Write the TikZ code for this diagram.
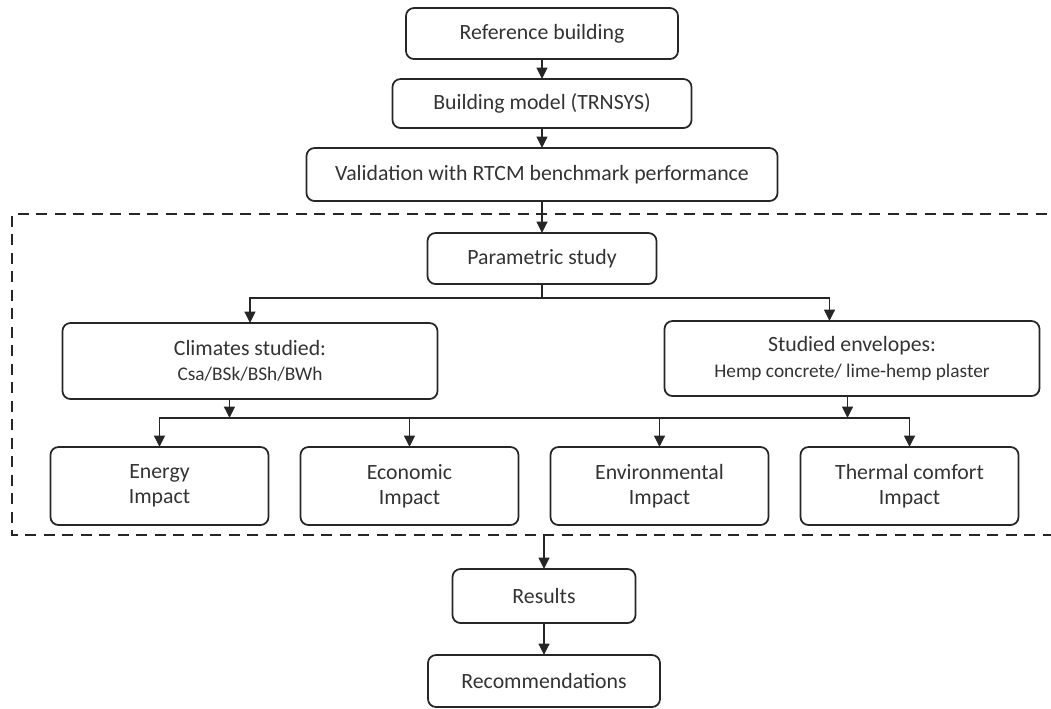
\documentclass[tikz,border=0pt]{standalone}
\usepackage{fontspec}
\setmainfont{Carlito}
\usetikzlibrary{arrows.meta, positioning}
\tikzstyle{stage}  = [rectangle, rounded corners=1.6mm, draw=black!85, line width=1pt, outer sep=0pt,
                      text=black!80, align=center, font=\fontsize{12.4}{14.5}\selectfont, inner sep=2pt]
\tikzstyle{branch} = [stage, minimum width=7.5cm, minimum height=1.5cm]
\tikzstyle{impact} = [stage, minimum width=4.36cm, minimum height=1.56cm]
\tikzstyle{arrow}  = [-{Triangle[length=2.3mm, width=2.2mm]}, line width=1pt, draw=black!85]
\tikzstyle{line}   = [line width=1pt, draw=black!85]
\tikzstyle{frame}  = [line width=1pt, draw=black!85, dash pattern=on 2.2mm off 1.5mm]
\newcommand{\subtxt}[1]{{\fontsize{11}{14.5}\selectfont #1}}

\begin{document}
\begin{tikzpicture}
    \useasboundingbox (-10.84,0.67) rectangle (10.18,-13.49);

    % Main column
    \node (ref) [stage, minimum width=5.44cm, minimum height=1.02cm] at (0,0) {Reference building};
    \node (model) [stage, below=0.4cm of ref, minimum width=5.98cm, minimum height=0.98cm] {Building model (TRNSYS)};
    \node (valid) [stage, below=0.4cm of model, minimum width=9.42cm, minimum height=1.06cm] {Validation with RTCM benchmark performance};
    \node (param) [stage, below=0.64cm of valid, minimum width=4.58cm, minimum height=1.02cm] {Parametric study};

    % Studied cases
    \node (climates) [branch, below=0.78cm of param, xshift=-5.84cm, minimum height=1.52cm] {Climates studied:\\\subtxt{Csa/BSk/BSh/BWh}};
    \node (envelopes) [branch, below=0.74cm of param, xshift=6.2cm] {Studied envelopes:\\\subtxt{Hemp concrete/ lime-hemp plaster}};

    % Impacts
    \node (energy) [impact, below=0.96cm of climates, xshift=-1.81cm] {Energy\\Impact};
    \node (economic) [impact, right=0.64cm of energy] {Economic\\Impact};
    \node (environ) [impact, right=0.64cm of economic] {Environmental\\Impact};
    \node (thermal) [impact, right=0.64cm of environ] {Thermal comfort\\Impact};

    % Output
    \node (results) [stage, below=0.88cm of economic, xshift=2.69cm, minimum width=3.66cm, minimum height=1.08cm] {Results};
    \node (recomm) [stage, below=0.64cm of results, minimum width=4.64cm, minimum height=1.04cm] {Recommendations};

    % Dashed frame (open on the right)
    \coordinate (fTR) at (10.46,-3.61);
    \coordinate (fTL) at (-10.6,-3.61);
    \coordinate (fBL) at (-10.6,-10.03);
    \coordinate (fBR) at (10.46,-10.03);
    \draw[frame] (fTR) -- (fTL) -- (fBL) -- (fBR);

    % Main arrows
    \draw[arrow] (ref) -- (model);
    \draw[arrow] (model) -- (valid);
    \draw[arrow] (valid) -- (param);

    % Split to studied cases
    \coordinate (split) at ([yshift=-0.28cm]param.south);
    \draw[line] (param.south) -- (split);
    \draw[arrow] (split) -| (climates.north);
    \draw[arrow] (split) -| ([xshift=-0.45cm]envelopes.north);

    % Bus to impacts
    \coordinate (busL) at ([yshift=0.58cm]energy.north);
    \coordinate (busR) at ([yshift=0.58cm]thermal.north);
    \draw[line] (busL) -- (busR);
    \draw[arrow] ([xshift=-0.41cm]climates.south) -- ++(0,-0.38cm);
    \draw[arrow] ([xshift=-0.09cm]envelopes.south) -- ++(0,-0.44cm);
    \draw[arrow] (busL) -- (energy);
    \draw[arrow] (economic.north |- busL) -- (economic);
    \draw[arrow] (environ.north |- busL) -- (environ);
    \draw[arrow] (busR) -- (thermal);

    % Out of the frame
    \coordinate (exit) at (results.north |- fBL);
    \draw[arrow] (exit) -- (results);
    \draw[arrow] (results) -- (recomm);
\end{tikzpicture}
\end{document}
